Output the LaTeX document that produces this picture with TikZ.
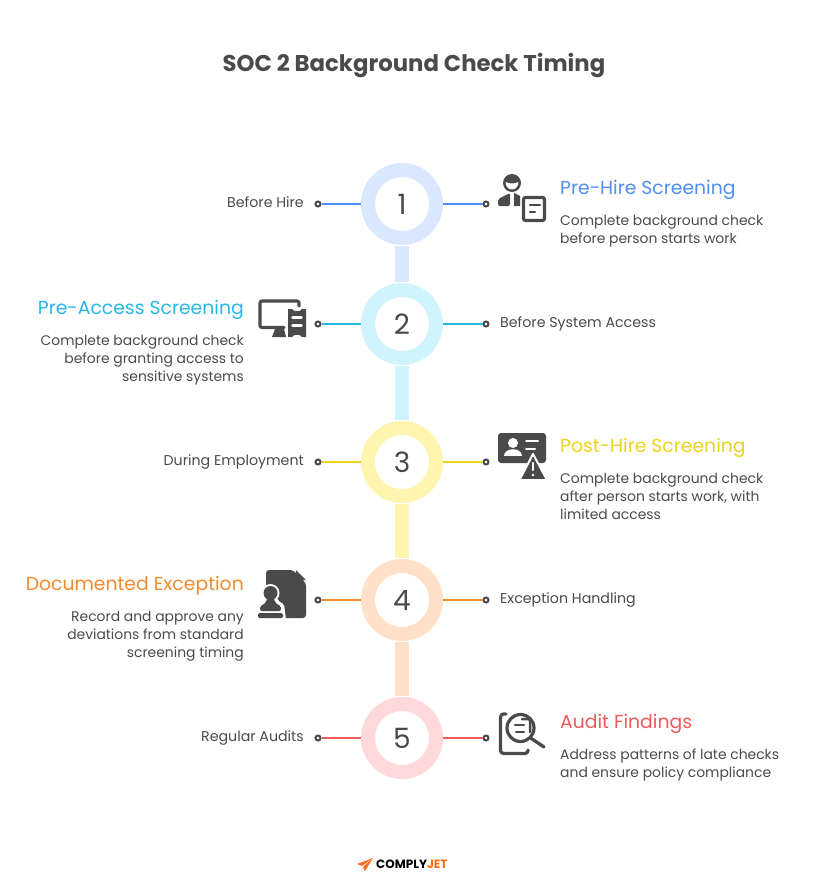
\documentclass[tikz,border=0pt]{standalone}
\usepackage{fontspec}
\setmainfont{Poppins}
\newfontfamily\logofont{Poppins}
\usetikzlibrary{positioning}
\definecolor{ink}{HTML}{4A4A4A}
\definecolor{blueline}{HTML}{4F8EF7}
\definecolor{bluering}{HTML}{DBE7FE}
\definecolor{cyanline}{HTML}{29B6E8}
\definecolor{cyanring}{HTML}{CFF4FE}
\definecolor{yellowline}{HTML}{EAD31A}
\definecolor{yellowring}{HTML}{FEF6B0}
\definecolor{orangeline}{HTML}{F08A2C}
\definecolor{orangering}{HTML}{FFE0C8}
\definecolor{redline}{HTML}{EF5A5A}
\definecolor{redring}{HTML}{FFD9D9}
\definecolor{jetorange}{HTML}{FF6A1A}
\tikzset{
	ring/.style={circle,draw=#1,line width=14pt,fill=white,minimum size=68pt,inner sep=0pt,text=ink,font=\fontsize{28}{28}\selectfont},
	bar/.style={draw=#1,line width=14pt,shorten >=1pt,shorten <=1pt},
	dot/.style={circle,draw=ink,line width=2pt,fill=white,minimum size=5pt,inner sep=0pt},
	link/.style={draw=#1,line width=2pt},
	tag/.style={text=ink,inner sep=0pt,font=\fontsize{14.2}{18}\selectfont},
	head/.style={text=#1,inner sep=0pt,font=\fontsize{18.8}{22}\selectfont},
	note/.style={text=ink,inner sep=0pt,font=\fontsize{13.9}{18}\selectfont},
	glyph/.style={draw=ink,line width=3.2pt,line cap=round,line join=round},
	cut/.style={draw=white,line width=2.5pt,line cap=round}
}
\begin{document}
\begin{tikzpicture}[x=1pt,y=-1pt]
	\useasboundingbox (0,0) rectangle (814,888);
	\node[text=ink,inner sep=0pt,anchor=base,font=\fontsize{22.8}{28}\selectfont\bfseries] (title) at (414,72) {SOC 2 Background Check Timing};

	\node[ring=bluering] (r1) at (402,204) {1};
	\node[ring=cyanring] (r2) [below=38pt of r1] {2};
	\node[ring=yellowring] (r3) [below=56pt of r2] {3};
	\node[ring=orangering] (r4) [below=56pt of r3] {4};
	\node[ring=redring] (r5) [below=56pt of r4] {5};

	\draw[bar=bluering] (r1) -- (r2);
	\draw[bar=cyanring] (r2) -- (r3);
	\draw[bar=yellowring] (r3) -- (r4);
	\draw[bar=orangering] (r4) -- (r5);

	\node[dot] (l1) [left=39.5pt of r1] {};
	\node[dot] (l2) [left=39.5pt of r2] {};
	\node[dot] (l3) [left=39.5pt of r3] {};
	\node[dot] (l4) [left=39.5pt of r4] {};
	\node[dot] (l5) [left=39.5pt of r5] {};
	\node[dot] (e1) [right=39.5pt of r1] {};
	\node[dot] (e2) [right=39.5pt of r2] {};
	\node[dot] (e3) [right=39.5pt of r3] {};
	\node[dot] (e4) [right=39.5pt of r4] {};
	\node[dot] (e5) [right=39.5pt of r5] {};

	\draw[link=blueline] (l1) -- (r1);
	\draw[link=blueline] (r1) -- (e1);
	\draw[link=cyanline] (l2) -- (r2);
	\draw[link=cyanline] (r2) -- (e2);
	\draw[link=yellowline] (l3) -- (r3);
	\draw[link=yellowline] (r3) -- (e3);
	\draw[link=orangeline] (l4) -- (r4);
	\draw[link=orangeline] (r4) -- (e4);
	\draw[link=redline] (l5) -- (r5);
	\draw[link=redline] (r5) -- (e5);

	\node[tag,anchor=base east] (t1) at (304,207) {Before Hire};
	\node[tag,anchor=base west] (t2) at (500,327) {Before System Access};
	\node[tag,anchor=base east] (t3) at (304,465) {During Employment};
	\node[tag,anchor=base west] (t4) at (500,603) {Exception Handling};
	\node[tag,anchor=base east] (t5) at (304,741) {Regular Audits};

	\node[head=blueline,anchor=base west] (h1) at (560,194) {Pre-Hire Screening};
	\node[note,anchor=north west,align=left] (n1) at (560,215) {Complete background check\\before person starts work};
	\node[head=cyanline,anchor=base east] (h2) at (244,314) {Pre-Access Screening};
	\node[note,anchor=north east,align=right] (n2) at (244,335) {Complete background check\\before granting access to\\sensitive systems};
	\node[head=yellowline,anchor=base west] (h3) at (560,452) {Post-Hire Screening};
	\node[note,anchor=north west,align=left] (n3) at (560,473) {Complete background check\\after person starts work, with\\limited access};
	\node[head=orangeline,anchor=base east] (h4) at (244,590) {Documented Exception};
	\node[note,anchor=north east,align=right] (n4) at (244,611) {Record and approve any\\deviations from standard\\screening timing};
	\node[head=redline,anchor=base west] (h5) at (560,728) {Audit Findings};
	\node[note,anchor=north west,align=left] (n5) at (560,749) {Address patterns of late checks\\and ensure policy compliance};

	% person with form
	\fill[ink] (512,183) circle (9);
	\fill[white] (505.5,182) .. controls (509,184) and (515,184) .. (518.5,182) .. controls (518,192) and (506,192) .. (505.5,182) -- cycle;
	\fill[ink,rounded corners=2pt] (510,193) -- (498,199) -- (498,206) -- (510,206) -- cycle;
	\fill[ink] (514,193) -- (520,196) -- (520,206) -- (514,206) -- cycle;
	\draw[glyph,fill=white,rounded corners=2pt] (523.5,197.5) rectangle (544.5,220.5);
	\draw[glyph,line width=2.5pt] (530,205) -- (540,205) (530,212) -- (535,212);

	% screen with ticket
	\draw[glyph,rounded corners=2pt] (299,306) -- (299,301) -- (260,301) -- (260,327.5) -- (284,327.5);
	\fill[ink] (275,329) -- (284,329) -- (286,337) -- (272,337) -- cycle;
	\fill[ink] (288,309) -- (292,309) .. controls (293,312) and (301,312) .. (302,309) -- (306,309) -- (306,337) -- (302,337) .. controls (301,334) and (293,334) .. (292,337) -- (288,337) -- cycle;
	\draw[cut] (292.5,317.5) -- (301.5,317.5) (292.5,325.5) -- (301.5,325.5);

	% id card with warning
	\fill[ink,rounded corners=3pt] (498,433) rectangle (546,463);
	\fill[white] (513,443) circle (5);
	\fill[white] (504,456) .. controls (504,447) and (522,447) .. (522,456) -- cycle;
	\draw[cut,line width=2pt] (526,441) -- (538,441) (526,449) -- (535,449);
	\fill[ink,draw=white,line width=2pt,line join=round] (533,454) -- (547,480) -- (519.5,480) -- cycle;
	\draw[cut,line width=2.2pt] (533,463) -- (533,470);
	\fill[white] (533,475) circle (1.3);

	% document with stamp
	\fill[ink,rounded corners=3pt] (266,570) -- (293,570) -- (306,583) -- (306,618) -- (266,618) -- cycle;
	\fill[white] (293,568) -- (308,568) -- (308,583) -- (306,583) -- cycle;
	\fill[ink] (296,570) -- (306,580) -- (296,580) -- cycle;
	\fill[white] (270.5,593) circle (9);
	\fill[white,rounded corners=2pt] (264,597) -- (277,597) -- (278,601) -- (284,604) -- (286,620) -- (254,620) -- (256,604) -- (263,601) -- cycle;
	\fill[ink] (270.5,593) circle (7);
	\fill[ink,rounded corners=2pt] (267,597) -- (274,597) -- (275,603) -- (281,606) -- (281,611) -- (260,611) -- (260,606) -- (266,603) -- cycle;
	\fill[ink,rounded corners=1.5pt] (258,613) rectangle (283,618);

	% report under magnifier
	\draw[glyph,rounded corners=3pt] (506,714) -- (500.5,714) -- (500.5,753.5) -- (528,753.5) -- (528,750);
	\draw[glyph,fill=white] (520.5,728) circle (13.5);
	\draw[glyph] (530.5,738) -- (544,747);
	\draw[glyph,line width=2.5pt,rounded corners=2pt] (522,719) -- (530,719) -- (530,732);
	\draw[glyph,line width=2.5pt] (515,725) -- (524,725) (516,732) -- (524,732);

	% logo
	\fill[jetorange] (373,858) -- (357,864) -- (362,866) -- cycle;
	\fill[jetorange] (373,858) -- (363,867) -- (365,871) -- cycle;
	\node[inner sep=0pt,anchor=west,font=\logofont\fontsize{12}{12}\selectfont\bfseries] (logo) at (376,864) {COMPLY\textcolor{jetorange}{JET}};
\end{tikzpicture}
\end{document}
